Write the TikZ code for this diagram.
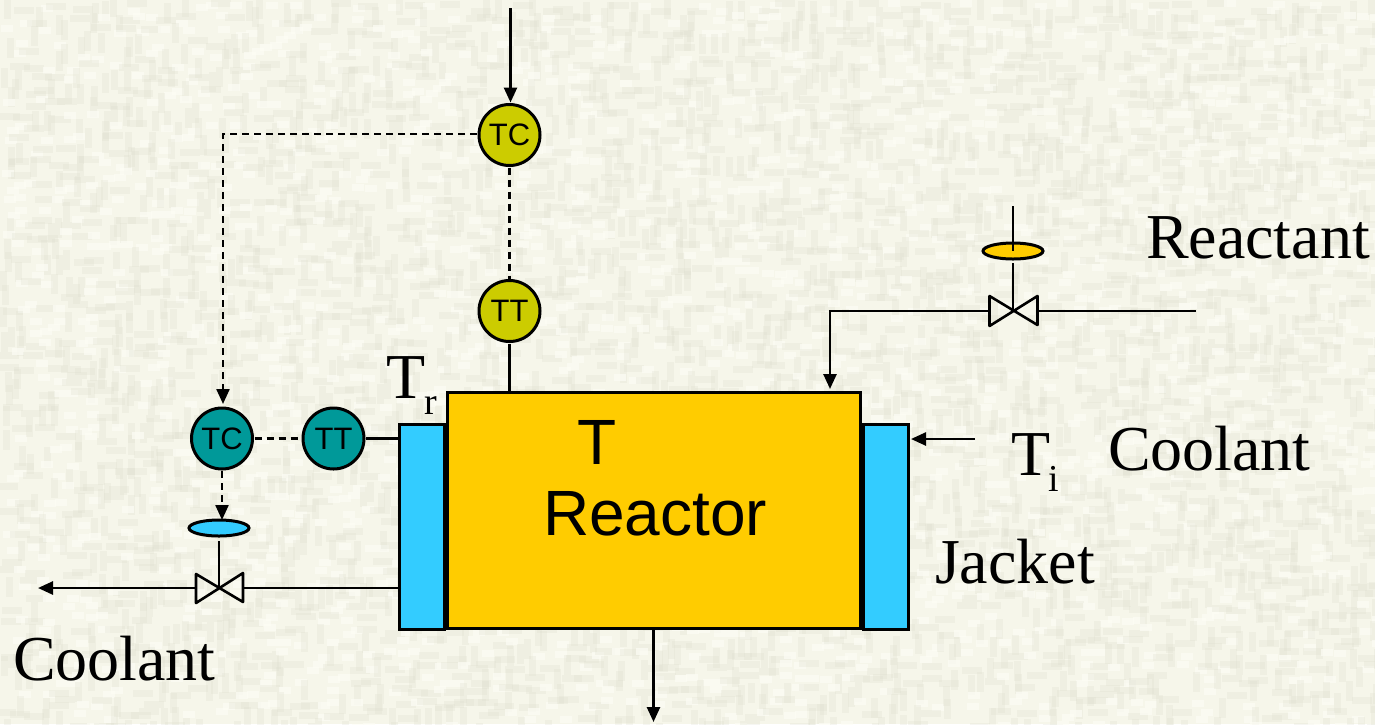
\documentclass[tikz,border=0pt]{standalone}
\usepackage{fontspec}
\setmainfont{Liberation Serif}
\newfontfamily\arialf{Liberation Sans}
\usetikzlibrary{arrows.meta,calc,shapes.geometric}
\definecolor{bgbase}{HTML}{F6F6EA}
\definecolor{bgdark}{HTML}{DEDFCF}
\definecolor{bglite}{HTML}{FDFDF5}
\definecolor{olivei}{HTML}{CCCC00}
\definecolor{teali}{HTML}{009999}
\definecolor{reactorc}{HTML}{FFCC00}
\definecolor{jacketc}{HTML}{33CCFF}
\tikzset{
 x=1pt,y=-1pt,
 ln/.style={line width=2.6pt,draw=black},
 arr/.style={ln,-{Triangle[length=15pt,width=13pt]}},
 dsh/.style={line width=2.3pt,draw=black,dash pattern=on 7pt off 5pt},
 darr/.style={dsh,-{Triangle[length=15pt,width=13pt]}},
 inst/.style={circle,draw=black,line width=3pt,minimum size=61pt,inner sep=0pt,outer sep=2pt,font=\arialf\fontsize{31}{34}\selectfont},
 vessel/.style={rectangle,draw=black,line width=3pt,inner sep=0pt,outer sep=0pt},
 act/.style={ellipse,draw=black,line width=3pt,minimum width=60pt,minimum height=16pt,inner sep=0pt,outer sep=0pt},
 serift/.style={inner sep=0pt,outer sep=0pt,anchor=base west,font=\fontsize{64}{70}\selectfont},
 sanst/.style={inner sep=0pt,outer sep=0pt,anchor=base west,font=\arialf\fontsize{64}{70}\selectfont},
 subt/.style={inner sep=0pt,outer sep=0pt,anchor=base west,font=\fontsize{38}{44}\selectfont},
}
\begin{document}
\begin{tikzpicture}
\useasboundingbox (0,0) rectangle (1375,724);
\fill[bgbase] (0,0) rectangle (1375,724);
% woven paper texture
\pgfmathsetseed{4217}
\begin{scope}
\clip (0,0) rectangle (1375,724);
\foreach \cx in {0,12,...,1368}{
 \foreach \cy in {0,12,...,720}{
  \pgfmathtruncatemacro{\kind}{random(1,4)}
  \pgfmathsetmacro{\off}{random(0,8)}
  \ifnum\kind=1
   \fill[bgdark,opacity=.28] (\cx+\off-5,\cy+\off) rectangle ++(20,7);
  \else\ifnum\kind=2
   \fill[bgdark,opacity=.28] (\cx+\off,\cy+\off-5) rectangle ++(7,20);
  \else\ifnum\kind=3
   \fill[bglite,opacity=.7] (\cx+\off,\cy+\off) rectangle ++(12,7);
  \fi\fi\fi
 }
}
\end{scope}

% vessels
\node[vessel,fill=jacketc,minimum width=45pt,minimum height=205pt] (jl) at (421.5,526.5) {};
\node[vessel,fill=jacketc,minimum width=45pt,minimum height=205pt] (jr) at (885.5,526.5) {};
\node[vessel,fill=reactorc,minimum width=413pt,minimum height=236pt] (reactor) at (653.5,510) {};

% instruments
\node[inst,fill=olivei] (tc1) at (509.5,135) {TC};
\node[inst,fill=olivei] (tt1) at (509.5,311) {TT};
\node[inst,fill=teali] (tc2) at (222,438.5) {TC};
\node[inst,fill=teali] (tt2) at (333.5,438.5) {TT};

% actuators
\node[act,fill=jacketc] (a2) at (219,528) {};
\node[act,fill=reactorc] (a1) at (1013,251) {};

% named ends
\coordinate (feedtop) at (510.5,8);
\coordinate (v1) at (1013,311);
\coordinate (v1l) at (989,311);
\coordinate (v1r) at (1038,311);
\coordinate (v1s) at (1013,206);
\coordinate (reactantend) at (1196,311);
\coordinate (bend1) at (830,311);
\coordinate (v2) at (219,588);
\coordinate (v2l) at (196,588);
\coordinate (v2r) at (243,588);
\coordinate (coolout) at (38,588);
\coordinate (coolin) at (975,439);
\coordinate (prod) at (653.5,722);
\coordinate (corner) at (223,134);

% valves
\draw[ln,line join=round] (989.5,296) -- (989.5,326) -- (1037.5,296) -- (1037.5,325) -- cycle;
\draw[ln,line join=round] (196,574) -- (196,603) -- (243,573) -- (243,602) -- cycle;

% process lines
\draw[arr] (feedtop) -- (tc1.north -| feedtop);
\draw[ln] (tt1.south) -- (tt1.south |- reactor.north);
\draw[ln] (v1r) -- (reactantend);
\draw[arr] (v1l) -- (bend1) -- ($(bend1 |- reactor.north)+(0,-3)$);
\draw[ln] (v1s) -- (a1.center);
\draw[ln] ($(a1.south)+(0,4)$) -- (v1);
\draw[ln] ($(a2.south)+(0,5)$) -- (v2);
\draw[ln] ($(jl.west |- v2)+(2,0)$) -- (v2r);
\draw[arr] (v2l) -- (coolout);
\draw[arr] (coolin) -- ($(coolin -| jr.east)+(3,0)$);
\draw[ln] (tt2.east) -- (tt2.east -| jl.west);
\draw[arr] ($(reactor.south)+(0,2)$) -- (prod);

% signal lines
\draw[dsh] (tc1.south) -- (tt1.north);
\draw[darr] (tc1.west |- corner) -- (corner) -- ($(tc2.north -| corner)+(0,-2)$);
\draw[dsh] (tc2.east) -- (tt2.west);
\draw[darr] (tc2.south) -- (tc2.south |- a2.north);

% labels
\node[serift] (lreact) at (1146,258) {Reactant};
\node[serift] (lcool1) at (1108,470) {Coolant};
\node[serift] (lcool2) at (13,680) {Coolant};
\node[serift] (ljack) at (935,583) {Jacket};
\node[serift] (ltr) at (386,398) {T};
\node[subt] (ltrs) at (424,414) {r};
\node[serift] (lti) at (1011,475) {T};
\node[subt] (ltis) at (1048,491) {i};
\node[sanst] (lt) at (577,464) {T};
\node[sanst] (lreactor) at (543,535) {Reactor};
\end{tikzpicture}
\end{document}
